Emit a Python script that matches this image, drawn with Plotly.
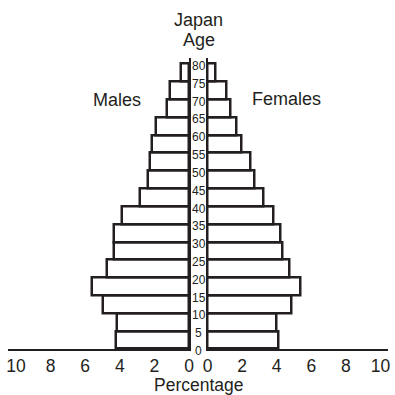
import plotly.graph_objects as go
from plotly.subplots import make_subplots

# Five-year age groups (lower bound of each group)
age_start = [0, 5, 10, 15, 20, 25, 30, 35, 40, 45, 50, 55, 60, 65, 70, 75]
# Share of population (%) in each age group
males = [4.2, 4.15, 4.95, 5.62, 4.72, 4.32, 4.32, 3.89, 2.83, 2.35, 2.25, 2.16, 1.88, 1.29, 1.1, 0.46]
females = [4.13, 4.0, 4.83, 5.35, 4.73, 4.32, 4.19, 3.8, 3.23, 2.69, 2.46, 1.98, 1.65, 1.34, 1.07, 0.49]

age_ticks = [0, 5, 10, 15, 20, 25, 30, 35, 40, 45, 50, 55, 60, 65, 70, 75, 80]
pct_ticks = [0, 2, 4, 6, 8, 10]

INK = "#231f20"
FONT = "Liberation Sans, Arial, Helvetica, sans-serif"
W = H = 395

fig = make_subplots(rows=1, cols=2, shared_yaxes=False, horizontal_spacing=0.0)

mid = [a + 2.5 for a in age_start]
bar_style = dict(orientation="h", width=5, marker=dict(color="white", line=dict(color=INK, width=2.5)),
                 showlegend=False, hoverinfo="skip")
fig.add_trace(go.Bar(x=males, y=mid, **bar_style), row=1, col=1)
fig.add_trace(go.Bar(x=females, y=mid, **bar_style), row=1, col=2)

def px_x(p):
    return p / W

def px_y(p):
    return 1 - p / H

y_dom = [px_y(349), px_y(57.6)]
axis_common = dict(showgrid=False, zeroline=False, showline=True, linecolor=INK, linewidth=2,
                   ticks="", tickvals=pct_ticks, ticktext=[str(v) for v in pct_ticks],
                   tickfont=dict(family=FONT, size=17.5, color=INK), automargin=False)
yaxis_common = dict(domain=y_dom, range=[0, 81.8], showline=True, linecolor=INK, linewidth=2,
                    showgrid=False, zeroline=False, showticklabels=False, ticks="", automargin=False)

fig.update_layout(
    width=W, height=H,
    margin=dict(l=0, r=0, t=0, b=0),
    paper_bgcolor="white", plot_bgcolor="white",
    bargap=0,
    xaxis=dict(domain=[px_x(8), px_x(189)], range=[10.46, 0], **axis_common),
    xaxis2=dict(domain=[px_x(207.5), px_x(388)], range=[0, 10.43], **axis_common),
    yaxis=dict(side="right", **yaxis_common),
    yaxis2=dict(side="left", **yaxis_common),
)

# Age labels down the central column
for a in age_ticks:
    fig.add_annotation(x=px_x(198.5), xref="paper", y=a, yref="y", text=str(a), showarrow=False,
                       xanchor="center", yanchor="middle", yshift=-2,
                       font=dict(family=FONT, size=12, color=INK))

def label(text, x, y, size):
    fig.add_annotation(x=px_x(x), y=px_y(y), xref="paper", yref="paper", text=text, showarrow=False,
                       xanchor="center", yanchor="middle", font=dict(family=FONT, size=size, color=INK))

label("Japan", 198.5, 19.5, 18)
label("Age", 198.5, 40, 18)
label("Males", 117, 100, 18)
label("Females", 286, 99, 18)
label("Percentage", 198.7, 384.5, 17.5)

fig.write_html("out.html")
